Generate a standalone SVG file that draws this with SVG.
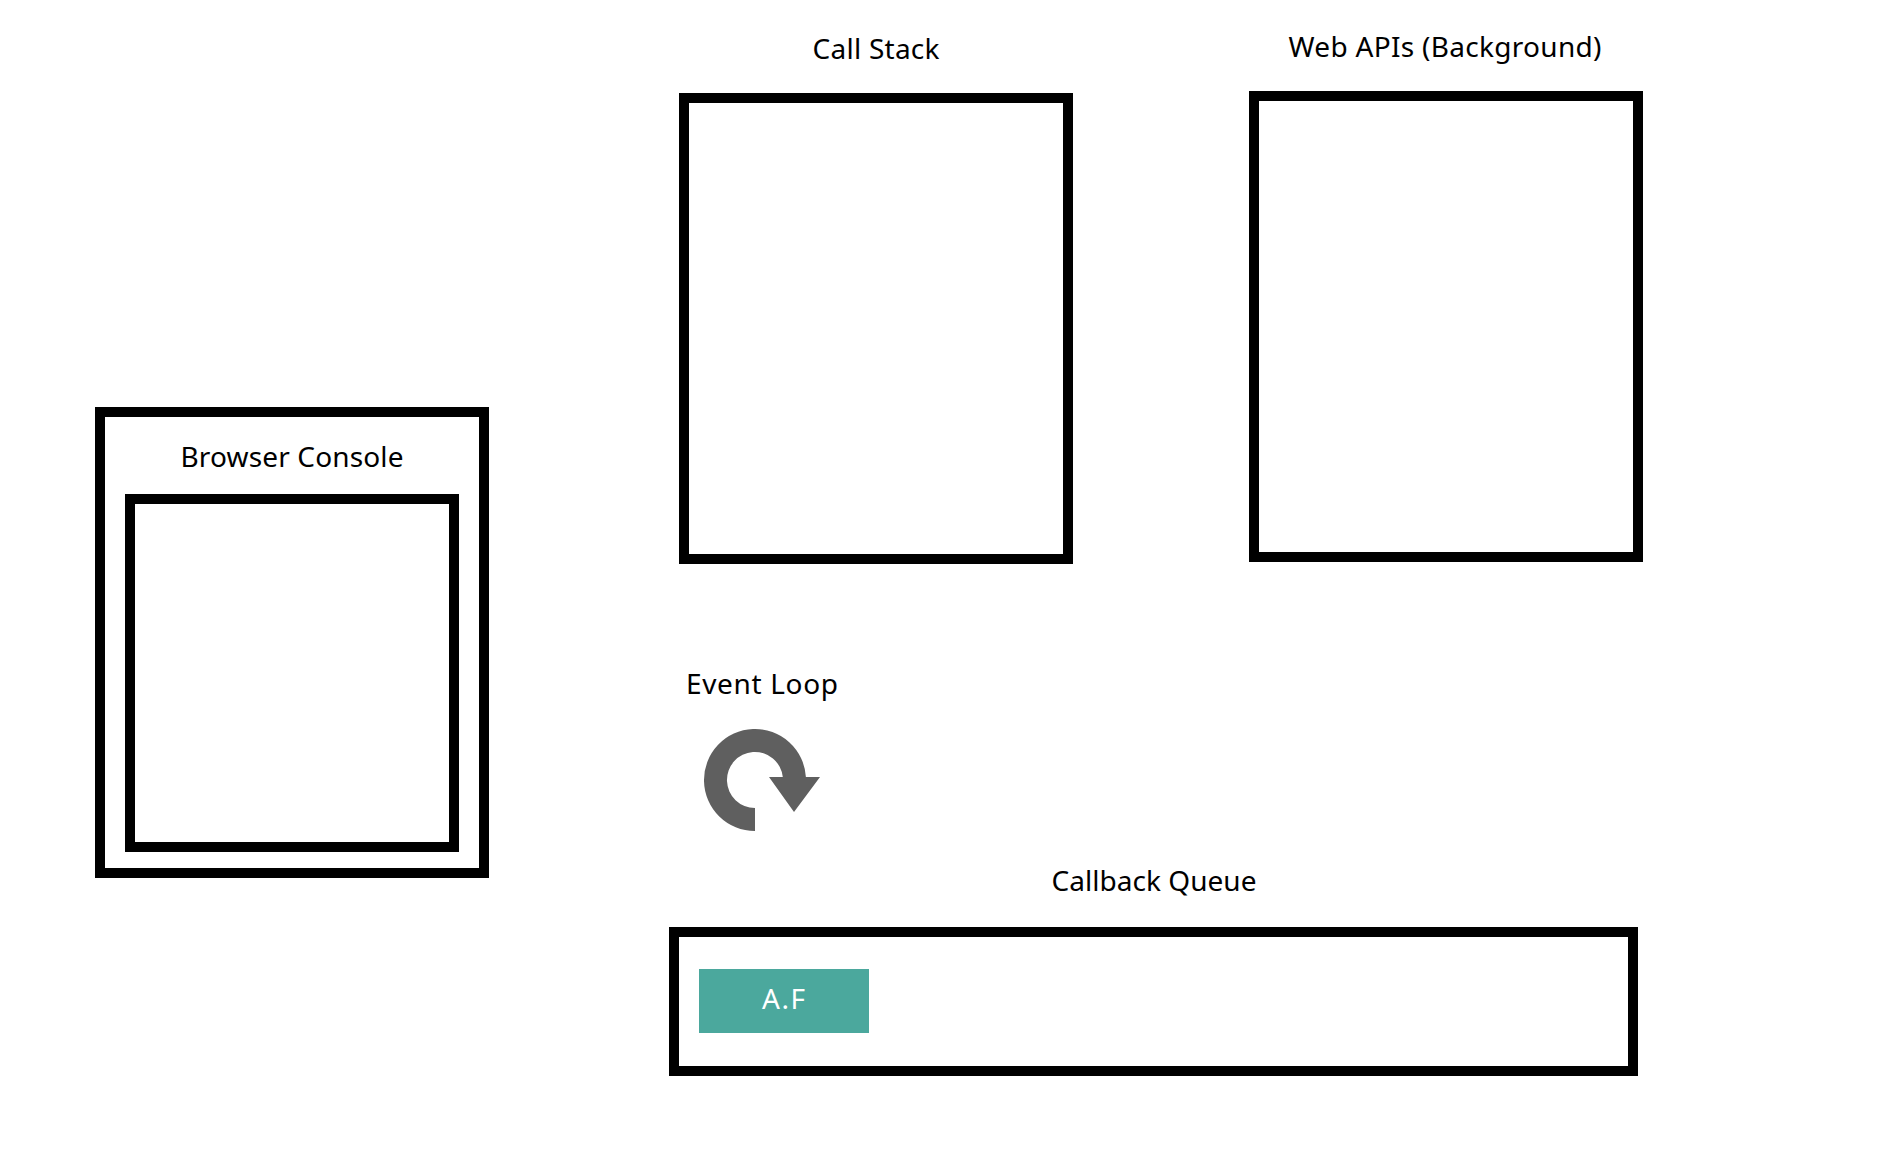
<svg xmlns="http://www.w3.org/2000/svg" width="1878" height="1158" viewBox="0 0 1878 1158">
<style>
.box{fill:#fff;stroke:#000;stroke-width:10}
.lbl{font-family:"Noto Sans","Open Sans",sans-serif;font-size:28px;fill:#000;text-anchor:middle}
</style>
<rect width="1878" height="1158" fill="#fff"/>
<g id="browser-console">
<rect class="box" x="100" y="412" width="384" height="461"/>
<text class="lbl" x="292" y="467" textLength="223">Browser Console</text>
<rect class="box" x="130" y="499" width="324" height="348"/>
</g>
<g id="call-stack">
<text class="lbl" x="876" y="59" textLength="127">Call Stack</text>
<rect class="box" x="684" y="98" width="384" height="461"/>
</g>
<g id="web-apis">
<text class="lbl" x="1445" y="57" textLength="313">Web APIs (Background)</text>
<rect class="box" x="1254" y="96" width="384" height="461"/>
</g>
<g id="event-loop">
<text class="lbl" x="762" y="694" textLength="152">Event Loop</text>
<path fill="#5f5f5f" d="M755 831A51 51 0 1 1 805.9 777H820L794 812L769 777H782.8A28 28 0 1 0 755 808Z"/>
</g>
<g id="callback-queue">
<text class="lbl" x="1154" y="891" textLength="205">Callback Queue</text>
<rect class="box" x="674" y="932" width="959" height="139"/>
</g>
<g id="af">
<rect x="699" y="969" width="170" height="64" fill="#4ba89d"/>
<text class="lbl" x="783.5" y="1009" textLength="43" style="fill:#fff">A.F</text>
</g>
<g id="connectors"/>
</svg>
